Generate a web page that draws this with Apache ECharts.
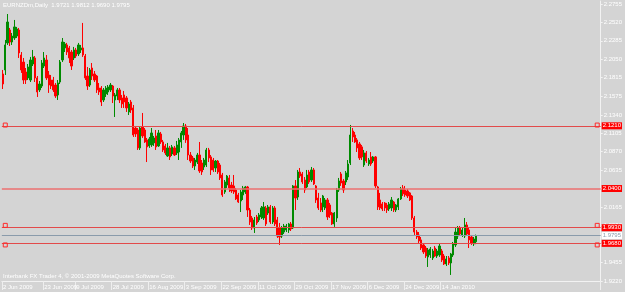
<!DOCTYPE html>
<html><head><meta charset="utf-8">
<script src="https://cdn.jsdelivr.net/npm/echarts@6/dist/echarts.min.js"></script>
<style>html,body{margin:0;padding:0;background:#d4d4d4}#c{width:625px;height:292px}</style>
</head><body><div id="c"></div>
<script>
const symbolName = 'EURNZDm', period = 'Daily';
const copyright = 'Interbank FX Trader 4, © 2001-2009 MetaQuotes Software Corp.';

const opens = [2.1862,2.1913,2.2258,2.2423,2.2270,2.2321,2.2346,2.2423,2.2104,2.2014,
2.1887,2.1811,2.1785,2.1989,2.2066,2.1811,2.1658,2.1708,2.1963,2.2040,
2.1849,2.1785,2.1785,2.1721,2.1594,2.1759,2.2040,2.2194,2.2232,2.2194,
2.2142,2.2066,2.2168,2.2117,2.2168,2.2194,2.2091,2.1836,2.1721,2.1938,
2.1862,2.1836,2.1683,2.1683,2.1530,2.1607,2.1632,2.1658,2.1708,2.1530,
2.1581,2.1658,2.1556,2.1594,2.1556,2.1377,2.1504,2.1428,2.1172,2.1147,
2.0918,2.1185,2.1147,2.1020,2.0943,2.0956,2.0982,2.1071,2.0943,2.1096,
2.0994,2.0943,2.0815,2.0918,2.0841,2.0918,2.0854,2.0866,2.0994,2.1083,
2.1198,2.1083,2.0828,2.0790,2.0688,2.0738,2.0828,2.0726,2.0675,2.0700,
2.0892,2.0803,2.0764,2.0662,2.0751,2.0700,2.0573,2.0356,2.0445,2.0535,
2.0445,2.0433,2.0382,2.0318,2.0241,2.0318,2.0356,2.0420,2.0126,2.0024,
1.9897,2.0037,1.9999,2.0037,2.0024,2.0152,2.0088,2.0165,1.9973,2.0152,
1.9999,1.9897,1.9794,1.9845,1.9871,1.9871,1.9948,1.9897,2.0433,2.0292,
2.0611,2.0586,2.0509,2.0420,2.0611,2.0509,2.0637,2.0433,2.0279,2.0216,
2.0165,2.0152,2.0254,2.0190,2.0088,1.9948,2.0024,2.0382,2.0586,2.0496,
2.0484,2.0547,2.0726,2.1134,2.1083,2.1020,2.0969,2.0931,2.0700,2.0854,
2.0713,2.0803,2.0751,2.0803,2.0420,2.0254,2.0203,2.0216,2.0190,2.0139,
2.0152,2.0228,2.0126,2.0165,2.0267,2.0407,2.0382,2.0369,2.0344,2.0305,
2.0024,1.9845,1.9807,1.9744,1.9680,1.9641,1.9527,1.9552,1.9514,1.9641,
1.9539,1.9552,1.9603,1.9539,1.9437,1.9514,1.9450,1.9552,1.9680,1.9794,
1.9897,1.9807,1.9794,1.9935,1.9871,1.9782,1.9693,1.9721];

const closes = [2.1734,2.2232,2.2525,2.2270,2.2346,2.2462,2.2436,2.2130,2.1913,2.1785,
2.1785,2.1951,2.2040,2.2079,2.1811,2.1632,2.1734,2.2002,2.2066,2.1811,
2.1721,2.1708,2.1658,2.1581,2.1747,2.2014,2.2270,2.2245,2.2142,2.2066,
2.1963,2.2168,2.2091,2.2232,2.2194,2.2104,2.1811,2.1708,2.1913,2.1836,
2.1785,2.1658,2.1632,2.1504,2.1658,2.1683,2.1696,2.1721,2.1581,2.1594,
2.1658,2.1530,2.1479,2.1504,2.1428,2.1479,2.1402,2.1083,2.1096,2.0918,
2.1172,2.1071,2.0994,2.0931,2.1033,2.1109,2.1045,2.0931,2.1109,2.0994,
2.0892,2.0854,2.0918,2.0803,2.0931,2.0828,2.0956,2.1020,2.1109,2.1198,
2.1020,2.0828,2.0751,2.0688,2.0764,2.0828,2.0624,2.0611,2.0764,2.0892,
2.0790,2.0637,2.0637,2.0751,2.0611,2.0535,2.0318,2.0484,2.0560,2.0407,
2.0369,2.0356,2.0267,2.0228,2.0356,2.0407,2.0420,2.0126,1.9973,1.9897,
1.9999,1.9961,2.0063,2.0152,2.0165,1.9948,2.0165,1.9973,2.0152,1.9948,
1.9794,1.9782,1.9897,1.9922,1.9922,1.9948,1.9884,2.0433,2.0279,2.0611,
2.0560,2.0484,2.0382,2.0573,2.0484,2.0637,2.0458,2.0254,2.0152,2.0126,
2.0305,2.0254,2.0037,2.0063,1.9948,2.0088,2.0382,2.0496,2.0471,2.0382,
2.0599,2.0713,2.1083,2.1058,2.0994,2.0918,2.0790,2.0803,2.0854,2.0751,
2.0764,2.0713,2.0803,2.0433,2.0165,2.0152,2.0139,2.0152,2.0126,2.0203,
2.0254,2.0126,2.0190,2.0267,2.0394,2.0331,2.0318,2.0305,2.0254,2.0024,
1.9845,1.9782,1.9731,1.9641,1.9590,1.9539,1.9616,1.9629,1.9603,1.9539,
1.9603,1.9667,1.9488,1.9437,1.9501,1.9450,1.9565,1.9692,1.9845,1.9897,
1.9820,1.9871,1.9935,1.9820,1.9744,1.9705,1.9756,1.9795];

const lows = [2.1670,2.1849,2.2232,2.2219,2.2232,2.2296,2.2321,2.2066,2.1875,2.1734,
2.1734,2.1785,2.1759,2.1963,2.1759,2.1568,2.1632,2.1683,2.1938,2.1785,
2.1620,2.1670,2.1632,2.1556,2.1530,2.1734,2.2014,2.2142,2.2104,2.2002,
2.1913,2.2040,2.2066,2.2091,2.2130,2.2079,2.1785,2.1658,2.1696,2.1785,
2.1759,2.1620,2.1594,2.1453,2.1504,2.1568,2.1594,2.1632,2.1491,2.1313,
2.1530,2.1491,2.1428,2.1428,2.1377,2.1338,2.1364,2.1058,2.1058,2.0892,
2.0892,2.1045,2.0982,2.0738,2.0918,2.0931,2.0943,2.0892,2.0931,2.0969,
2.0866,2.0828,2.0803,2.0764,2.0815,2.0815,2.0828,2.0764,2.0918,2.1020,
2.0982,2.0764,2.0726,2.0662,2.0637,2.0713,2.0599,2.0573,2.0637,2.0675,
2.0738,2.0573,2.0611,2.0611,2.0586,2.0509,2.0293,2.0331,2.0407,2.0356,
2.0344,2.0331,2.0254,2.0216,2.0100,2.0254,2.0331,2.0037,1.9935,1.9871,
1.9833,1.9935,1.9973,2.0011,1.9999,1.9922,2.0063,1.9948,1.9948,1.9922,
1.9769,1.9680,1.9769,1.9820,1.9845,1.9833,1.9858,1.9884,2.0126,2.0254,
2.0535,2.0458,2.0344,2.0407,2.0458,2.0484,2.0445,2.0216,2.0126,2.0100,
2.0100,2.0126,1.9999,2.0024,1.9935,1.9910,1.9973,2.0356,2.0433,2.0344,
2.0445,2.0509,2.0700,2.0994,2.0982,2.0866,2.0764,2.0764,2.0675,2.0726,
2.0688,2.0688,2.0726,2.0407,2.0126,2.0126,2.0113,2.0113,2.0088,2.0113,
2.0113,2.0100,2.0100,2.0126,2.0254,2.0305,2.0293,2.0279,2.0241,1.9999,
1.9807,1.9756,1.9705,1.9616,1.9565,1.9514,1.9399,1.9514,1.9488,1.9527,
1.9514,1.9527,1.9463,1.9424,1.9411,1.9424,1.9297,1.9527,1.9654,1.9756,
1.9794,1.9782,1.9769,1.9807,1.9641,1.9680,1.9667,1.9690];

const highs = [2.1913,2.2296,2.2627,2.2449,2.2385,2.2551,2.2462,2.2449,2.2142,2.2066,
2.1938,2.1989,2.2079,2.2168,2.2091,2.1836,2.1772,2.2040,2.2142,2.2104,
2.1900,2.1849,2.1824,2.1747,2.1785,2.2040,2.2321,2.2270,2.2258,2.2219,
2.2168,2.2207,2.2194,2.2258,2.2232,2.2513,2.2117,2.1951,2.1938,2.2002,
2.1900,2.1849,2.1747,2.1708,2.1683,2.1708,2.1721,2.1747,2.1721,2.1620,
2.1683,2.1683,2.1594,2.1645,2.1581,2.1504,2.1530,2.1466,2.1198,2.1172,
2.1185,2.1364,2.1172,2.1045,2.1058,2.1172,2.1071,2.1147,2.1147,2.1122,
2.1020,2.0969,2.0982,2.0943,2.0956,2.0943,2.1007,2.1045,2.1134,2.1236,
2.1224,2.1172,2.0866,2.0815,2.0790,2.0854,2.0994,2.0764,2.0790,2.0918,
2.0918,2.0828,2.0790,2.0764,2.0764,2.0726,2.0599,2.0509,2.0573,2.0573,
2.0484,2.0573,2.0407,2.0344,2.0382,2.0433,2.0433,2.0433,2.0152,2.0050,
2.0037,2.0063,2.0088,2.0177,2.0228,2.0177,2.0190,2.0190,2.0177,2.0177,
2.0037,1.9961,1.9922,1.9948,1.9948,1.9961,1.9973,2.0445,2.0509,2.0637,
2.0662,2.0611,2.0547,2.0637,2.0637,2.0675,2.0662,2.0445,2.0344,2.0279,
2.0318,2.0279,2.0279,2.0216,2.0101,2.0101,2.0407,2.0535,2.0611,2.0522,
2.0624,2.0764,2.1211,2.1172,2.1122,2.1045,2.0994,2.0956,2.0892,2.0879,
2.0790,2.0866,2.0815,2.0815,2.0433,2.0344,2.0228,2.0228,2.0216,2.0228,
2.0292,2.0241,2.0203,2.0279,2.0420,2.0445,2.0433,2.0394,2.0356,2.0318,
2.0050,1.9871,1.9845,1.9782,1.9705,1.9667,1.9641,1.9654,1.9629,1.9667,
1.9629,1.9692,1.9629,1.9565,1.9539,1.9539,1.9578,1.9718,1.9897,1.9922,
1.9922,1.9897,2.0024,1.9973,1.9897,1.9807,1.9782,1.9812];

const yTicks = [2.2755,2.2520,2.2285,2.2050,2.1815,2.1575,2.1340,2.1105,2.0870,2.0635,2.0400,2.0165,1.9930,1.9695,1.9455,1.9220];
const xLabels = ['2 Jun 2009','23 Jun 2009','9 Jul 2009','28 Jul 2009','16 Aug 2009','3 Sep 2009','22 Sep 2009','11 Oct 2009','29 Oct 2009','17 Nov 2009','6 Dec 2009','24 Dec 2009','14 Jan 2010'];
const hLevels = [2.1210, 2.0400, 1.9930, 1.9680];
const selectedLevels = [2.1210, 1.9930, 1.9680];
const skippedDays = ['25 Dec 2009', '1 Jan 2010'];
const emptyBarsRight = 54;
const yMin = 1.9220, yMax = 2.2793;

const months = ['Jan','Feb','Mar','Apr','May','Jun','Jul','Aug','Sep','Oct','Nov','Dec'];
const dates = [];
let t = Date.UTC(2009, 5, 2);
while (dates.length < opens.length) {
  const d = new Date(t);
  const s = d.getUTCDate() + ' ' + months[d.getUTCMonth()] + ' ' + d.getUTCFullYear();
  if (d.getUTCDay() !== 6 && !skippedDays.includes(s)) dates.push(s);
  t += 86400000;
}
const cats = dates.slice();
for (let i = 0; i < emptyBarsRight; i++) cats.push('pad' + i);

const data = opens.map((o, i) => [o, closes[i], lows[i], highs[i]]);
const last = opens.length - 1;
const f4 = v => v.toFixed(4);
const FONT = 'Liberation Sans';
const showLabel = (idx, val) => xLabels.includes(val);

const lineData = hLevels.map(v => ({
  yAxis: v,
  lineStyle: { color: v === 2.0400 ? '#ec7070' : '#e24a4a', width: v === 2.0400 ? 1.6 : 1, type: 'solid' },
  label: { show: true, position: 'end', distance: 1, formatter: f4(v), backgroundColor: '#ff0000', color: '#ffffff',
           fontSize: 6, fontFamily: FONT, padding: [1, 1, 0, 1] }
}));
lineData.push({
  yAxis: closes[last],
  lineStyle: { color: '#8a9bab', width: 1, type: 'solid' },
  label: { show: true, position: 'end', distance: 1, formatter: f4(closes[last]), backgroundColor: '#ffffff', color: '#8a9bab',
           fontSize: 6, fontFamily: FONT, padding: [1, 1, 0, 1] }
});

const squares = [];
selectedLevels.forEach(v => { squares.push({ coord: [cats[1], v] }); squares.push({ coord: [cats[cats.length - 2], v] }); });

const chart = echarts.init(document.getElementById('c'), null, { renderer: 'canvas' });
chart.setOption({
  animation: false,
  backgroundColor: '#d4d4d4',
  textStyle: { fontFamily: FONT },
  title: [
    { text: symbolName + ',' + period + '  ' + f4(opens[last]) + ' ' + f4(highs[last]) + ' ' + f4(lows[last]) + ' ' + f4(closes[last]),
      left: 3, top: 2, padding: 0, textStyle: { color: '#ffffff', fontSize: 6, fontWeight: 'normal', fontFamily: FONT } },
    { text: copyright, left: 3, top: 273, padding: 0, textStyle: { color: '#ffffff', fontSize: 6, fontWeight: 'normal', fontFamily: FONT } }
  ],
  grid: { left: 0, right: 21, top: 1, bottom: 11, containLabel: false },
  xAxis: {
    type: 'category', data: cats, boundaryGap: true,
    axisLine: { show: true, lineStyle: { color: '#f2f2f2', width: 1 } },
    axisTick: { show: true, interval: showLabel, length: 9, lineStyle: { color: '#eeeeee' } },
    axisLabel: { interval: showLabel, align: 'left', margin: 3, color: '#ffffff', fontSize: 6, fontFamily: FONT },
    splitLine: { show: false }
  },
  yAxis: {
    type: 'value', position: 'right', min: yMin, max: yMax, scale: true,
    axisLine: { show: true, lineStyle: { color: '#f2f2f2', width: 1 } },
    axisTick: { show: true, customValues: yTicks, length: 2, lineStyle: { color: '#f2f2f2' } },
    axisLabel: { customValues: yTicks, formatter: v => f4(v), margin: 3, color: '#ffffff', fontSize: 6, fontFamily: FONT },
    splitLine: { show: false }
  },
  series: [{
    type: 'candlestick',
    data: data,
    barWidth: 1.7,
    itemStyle: { color: '#008a00', color0: '#ff0000', borderColor: '#008a00', borderColor0: '#ff0000', borderWidth: 1 },
    markLine: { silent: true, symbol: 'none', animation: false, data: lineData },
    markPoint: { silent: true, symbol: 'rect', symbolSize: 4, animation: false,
      itemStyle: { color: 'rgba(0,0,0,0)', borderColor: '#ff2a2a', borderWidth: 1 },
      label: { show: false }, data: squares }
  }]
});
</script>
</body></html>
